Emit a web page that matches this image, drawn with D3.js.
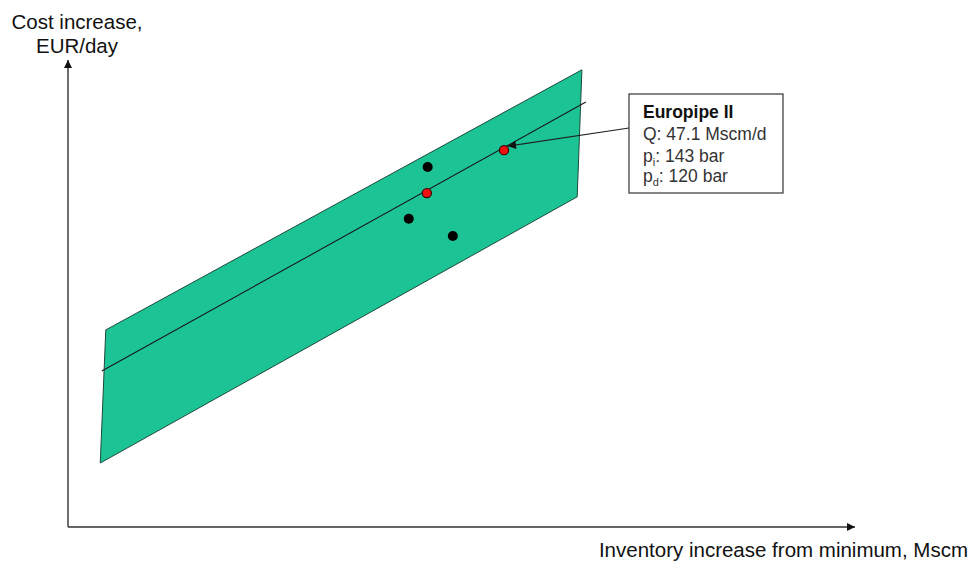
<!DOCTYPE html>
<html>
<head>
<meta charset="utf-8">
<script src="https://cdn.jsdelivr.net/npm/d3@7"></script>
<style>
  html, body { margin: 0; padding: 0; background: #ffffff; }
  svg { display: block; font-family: "Liberation Sans", Arial, sans-serif; }
</style>
</head>
<body>
<svg id="chart" width="979" height="561"></svg>
<script>
// Axis domain (arbitrary units, no tick marks shown)
const xDomain = [0, 100];
const yDomain = [0, 100];

// Uncertainty band corners: [inventory, cost]
const bandCorners = [[4.8, 42.2], [65.3, 97.9], [64.7, 70.7], [4.1, 13.7]];

// Fitted trend line end points
const trendLine = [[4.3, 33.4], [65.8, 91.0]];

// Other pipelines
const blackPoints = [[45.7, 77.1], [43.3, 66.0], [48.9, 62.3]];

// Highlighted pipelines (first one is Europipe II)
const redPoints = [[55.4, 80.7], [45.6, 71.5]];

// Annotation text
const boxTitle = "Europipe II";
const boxLines = [
  { base: "Q: 47.1 Mscm/d", sub: null, rest: "" },
  { base: "p", sub: "i", rest: ": 143 bar" },
  { base: "p", sub: "d", rest: ": 120 bar" }
];

const yLabelLines = ["Cost increase,", "EUR/day"];
const xLabel = "Inventory increase from minimum, Mscm";

const svg = d3.select("#chart");

const x = d3.scaleLinear().domain(xDomain).range([68, 855]);
const y = d3.scaleLinear().domain(yDomain).range([527, 60]);

const defs = svg.append("defs");
defs.append("marker")
  .attr("id", "axisArrow")
  .attr("viewBox", "0 0 10 10")
  .attr("refX", 10).attr("refY", 5)
  .attr("markerWidth", 10).attr("markerHeight", 8)
  .attr("markerUnits", "userSpaceOnUse")
  .attr("orient", "auto")
  .append("path").attr("d", "M0,0 L10,5 L0,10 Z").attr("fill", "#111");
defs.append("marker")
  .attr("id", "calloutArrow")
  .attr("viewBox", "0 0 10 10")
  .attr("refX", 10).attr("refY", 5)
  .attr("markerWidth", 11).attr("markerHeight", 8)
  .attr("markerUnits", "userSpaceOnUse")
  .attr("orient", "auto")
  .append("path").attr("d", "M0,0 L10,5 L0,10 Z").attr("fill", "#111");

// Band
svg.append("path")
  .datum(bandCorners)
  .attr("d", d3.line().x(d => x(d[0])).y(d => y(d[1])).curve(d3.curveLinearClosed))
  .attr("fill", "#1cc394")
  .attr("stroke", "#1e4a3c")
  .attr("stroke-width", 1);

// Trend line
svg.append("path")
  .datum(trendLine)
  .attr("d", d3.line().x(d => x(d[0])).y(d => y(d[1])))
  .attr("fill", "none")
  .attr("stroke", "#1a1a1a")
  .attr("stroke-width", 1.1);

// Axes
svg.append("line")
  .attr("x1", x(0)).attr("y1", y(0))
  .attr("x2", x(0)).attr("y2", y(100))
  .attr("stroke", "#333").attr("stroke-width", 1.4)
  .attr("marker-end", "url(#axisArrow)");
svg.append("line")
  .attr("x1", x(0)).attr("y1", y(0))
  .attr("x2", x(100)).attr("y2", y(0))
  .attr("stroke", "#333").attr("stroke-width", 1.4)
  .attr("marker-end", "url(#axisArrow)");

// Points
svg.selectAll("circle.black")
  .data(blackPoints).enter().append("circle")
  .attr("class", "black")
  .attr("cx", d => x(d[0])).attr("cy", d => y(d[1]))
  .attr("r", 5).attr("fill", "#000");

svg.selectAll("circle.red")
  .data(redPoints).enter().append("circle")
  .attr("class", "red")
  .attr("cx", d => x(d[0])).attr("cy", d => y(d[1]))
  .attr("r", 4.6).attr("fill", "#ee1111")
  .attr("stroke", "#3a0000").attr("stroke-width", 1.2);

// Callout box
const box = { x: 629, y: 94, w: 154, h: 99 };
svg.append("rect")
  .attr("x", box.x).attr("y", box.y)
  .attr("width", box.w).attr("height", box.h)
  .attr("fill", "#fff").attr("stroke", "#444").attr("stroke-width", 1.3);

// Callout arrow to Europipe II point
const target = redPoints[0];
svg.append("line")
  .attr("x1", box.x).attr("y1", 128)
  .attr("x2", x(target[0]) + 4).attr("y2", y(target[1]) - 4)
  .attr("stroke", "#222").attr("stroke-width", 1.2)
  .attr("marker-end", "url(#calloutArrow)");

svg.append("text")
  .attr("x", 643).attr("y", 117.5)
  .attr("font-size", 17.5).attr("font-weight", "bold")
  .attr("fill", "#111")
  .text(boxTitle);

const baselines = [140, 161.5, 182];
boxLines.forEach((ln, i) => {
  const t = svg.append("text")
    .attr("x", 643).attr("y", baselines[i])
    .attr("font-size", 17.5).attr("fill", "#333");
  t.append("tspan").text(ln.base);
  if (ln.sub) {
    t.append("tspan").attr("font-size", 11).attr("dy", 4).text(ln.sub);
    t.append("tspan").attr("dy", -4).text(ln.rest);
  }
});

// Axis titles
svg.append("text")
  .attr("text-anchor", "middle")
  .attr("font-size", 20.5).attr("fill", "#111")
  .selectAll("tspan")
  .data(yLabelLines).enter().append("tspan")
  .attr("x", 77)
  .attr("y", (d, i) => 29 + i * 24)
  .text(d => d);

svg.append("text")
  .attr("x", 968).attr("y", 557)
  .attr("text-anchor", "end")
  .attr("font-size", 20.5).attr("fill", "#111")
  .text(xLabel);
</script>
</body>
</html>
